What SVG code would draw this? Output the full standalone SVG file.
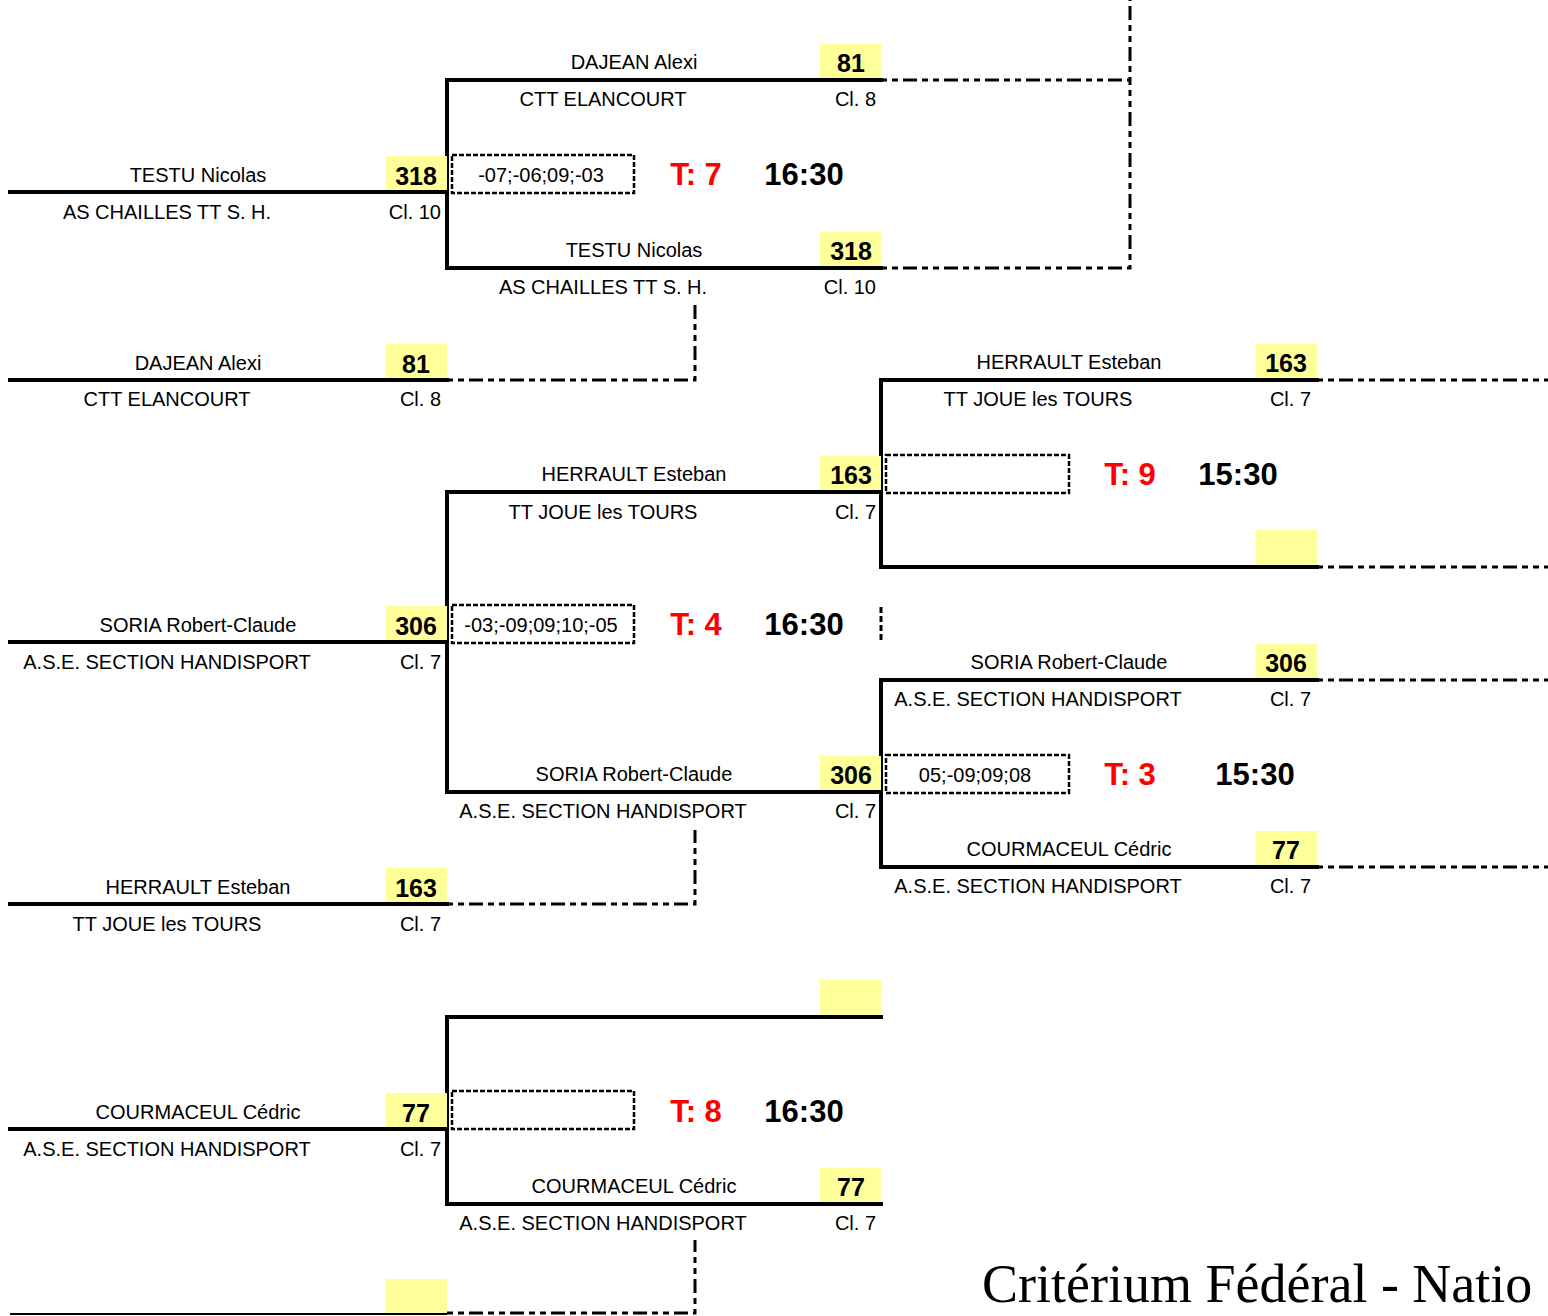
<svg xmlns="http://www.w3.org/2000/svg" width="1548" height="1316" viewBox="0 0 1548 1316">
<style>
.bg{fill:#fff}
.ln{stroke:#000;stroke-width:4;fill:none;stroke-linecap:square}
.thin{stroke:#000;stroke-width:2;fill:none}
.dd{stroke:#000;stroke-width:3;fill:none;stroke-dasharray:6 5 6 5 14 5}
.sb{stroke:#000;stroke-width:2.5;fill:none;stroke-dasharray:5 2}
.yb{fill:#ffff99}
text{font-family:"Liberation Sans",Arial,sans-serif;fill:#000}
.nm{font-size:20px;text-anchor:middle}
.cl{font-size:20px;text-anchor:end}
.sc{font-size:25px;font-weight:bold;text-anchor:middle}
.res{font-size:20px;text-anchor:middle}
.tb{font-size:31px;font-weight:bold;fill:#ff0000;text-anchor:middle}
.tm{font-size:31px;font-weight:bold;text-anchor:middle}
.title{font-family:"Liberation Serif","Times New Roman",serif;font-size:54px}
</style>
<rect class="bg" x="0" y="0" width="1548" height="1316"/>

<g id="connectors">
  <path class="dd" d="M881 80 H1130 V0 M881 268 H1130 V80"/>
  <path class="dd" d="M447 380 H695 V305"/>
  <path class="dd" d="M447 904 H695 V830"/>
  <path class="dd" d="M447 1313 H695 V1240"/>
  <path class="dd" d="M1317 380 H1548 M1317 567 H1548 M1317 680 H1548 M1317 867 H1548"/>
  <path class="dd" d="M881 607 V640" style="stroke-dasharray:6 3"/>
  <path class="ln" d="M447 80 V268 M881 380 V567 M881 680 V867 M447 492 V792 M447 1017 V1204"/>
</g>

<!-- Round 1 -->
<g id="r1-testu">
  <rect class="yb" x="386" y="156" width="61" height="36"/>
  <line class="ln" x1="10" y1="192" x2="447" y2="192"/>
  <text class="nm" x="198" y="182">TESTU Nicolas</text>
  <text class="nm" x="167" y="219">AS CHAILLES TT S. H.</text>
  <text class="sc" x="416" y="185">318</text>
  <text class="cl" x="441" y="219">Cl. 10</text>
</g>
<g id="r1-dajean">
  <rect class="yb" x="386" y="344" width="61" height="36"/>
  <line class="ln" x1="10" y1="380" x2="447" y2="380"/>
  <text class="nm" x="198" y="370">DAJEAN Alexi</text>
  <text class="nm" x="167" y="406">CTT ELANCOURT</text>
  <text class="sc" x="416" y="373">81</text>
  <text class="cl" x="441" y="406">Cl. 8</text>
</g>
<g id="r1-soria">
  <rect class="yb" x="386" y="606" width="61" height="36"/>
  <line class="ln" x1="10" y1="642" x2="447" y2="642"/>
  <text class="nm" x="198" y="632">SORIA Robert-Claude</text>
  <text class="nm" x="167" y="669">A.S.E. SECTION HANDISPORT</text>
  <text class="sc" x="416" y="635">306</text>
  <text class="cl" x="441" y="669">Cl. 7</text>
</g>
<g id="r1-herrault">
  <rect class="yb" x="386" y="868" width="61" height="36"/>
  <line class="ln" x1="10" y1="904" x2="447" y2="904"/>
  <text class="nm" x="198" y="894">HERRAULT Esteban</text>
  <text class="nm" x="167" y="931">TT JOUE les TOURS</text>
  <text class="sc" x="416" y="897">163</text>
  <text class="cl" x="441" y="931">Cl. 7</text>
</g>
<g id="r1-courmaceul">
  <rect class="yb" x="386" y="1093" width="61" height="36"/>
  <line class="ln" x1="10" y1="1129" x2="447" y2="1129"/>
  <text class="nm" x="198" y="1119">COURMACEUL Cédric</text>
  <text class="nm" x="167" y="1156">A.S.E. SECTION HANDISPORT</text>
  <text class="sc" x="416" y="1122">77</text>
  <text class="cl" x="441" y="1156">Cl. 7</text>
</g>
<g id="r1-empty">
  <rect class="yb" x="386" y="1279" width="61" height="34"/>
  <line class="thin" x1="10" y1="1314" x2="447" y2="1314"/>
</g>

<!-- Round 2 -->
<g id="r2-dajean">
  <rect class="yb" x="820" y="44" width="61" height="36"/>
  <line class="ln" x1="447" y1="80" x2="881" y2="80"/>
  <text class="nm" x="634" y="69">DAJEAN Alexi</text>
  <text class="nm" x="603" y="106">CTT ELANCOURT</text>
  <text class="sc" x="851" y="72">81</text>
  <text class="cl" x="876" y="106">Cl. 8</text>
</g>
<g id="r2-testu">
  <rect class="yb" x="820" y="232" width="61" height="36"/>
  <line class="ln" x1="447" y1="268" x2="881" y2="268"/>
  <text class="nm" x="634" y="257">TESTU Nicolas</text>
  <text class="nm" x="603" y="294">AS CHAILLES TT S. H.</text>
  <text class="sc" x="851" y="260">318</text>
  <text class="cl" x="876" y="294">Cl. 10</text>
</g>
<g id="m-t7">
  <rect class="sb" x="452" y="155" width="182" height="38"/>
  <text class="res" x="541" y="182">-07;-06;09;-03</text>
  <text class="tb" x="696" y="185">T: 7</text>
  <text class="tm" x="804" y="185">16:30</text>
</g>
<g id="r2-herrault">
  <rect class="yb" x="820" y="456" width="61" height="36"/>
  <line class="ln" x1="447" y1="492" x2="881" y2="492"/>
  <text class="nm" x="634" y="481">HERRAULT Esteban</text>
  <text class="nm" x="603" y="519">TT JOUE les TOURS</text>
  <text class="sc" x="851" y="484">163</text>
  <text class="cl" x="876" y="519">Cl. 7</text>
</g>
<g id="r2-soria">
  <rect class="yb" x="820" y="756" width="61" height="36"/>
  <line class="ln" x1="447" y1="792" x2="881" y2="792"/>
  <text class="nm" x="634" y="781">SORIA Robert-Claude</text>
  <text class="nm" x="603" y="818">A.S.E. SECTION HANDISPORT</text>
  <text class="sc" x="851" y="784">306</text>
  <text class="cl" x="876" y="818">Cl. 7</text>
</g>
<g id="m-t4">
  <rect class="sb" x="452" y="605" width="182" height="38"/>
  <text class="res" x="541" y="632">-03;-09;09;10;-05</text>
  <text class="tb" x="696" y="635">T: 4</text>
  <text class="tm" x="804" y="635">16:30</text>
</g>
<g id="r2-empty">
  <rect class="yb" x="820" y="980" width="61" height="37"/>
  <line class="ln" x1="447" y1="1017" x2="881" y2="1017"/>
</g>
<g id="r2-courmaceul">
  <rect class="yb" x="820" y="1168" width="61" height="36"/>
  <line class="ln" x1="447" y1="1204" x2="881" y2="1204"/>
  <text class="nm" x="634" y="1193">COURMACEUL Cédric</text>
  <text class="nm" x="603" y="1230">A.S.E. SECTION HANDISPORT</text>
  <text class="sc" x="851" y="1196">77</text>
  <text class="cl" x="876" y="1230">Cl. 7</text>
</g>
<g id="m-t8">
  <rect class="sb" x="452" y="1091" width="182" height="38"/>
  <text class="tb" x="696" y="1122">T: 8</text>
  <text class="tm" x="804" y="1122">16:30</text>
</g>

<!-- Round 3 -->
<g id="r3-herrault">
  <rect class="yb" x="1256" y="344" width="61" height="36"/>
  <line class="ln" x1="881" y1="380" x2="1317" y2="380"/>
  <text class="nm" x="1069" y="369">HERRAULT Esteban</text>
  <text class="nm" x="1038" y="406">TT JOUE les TOURS</text>
  <text class="sc" x="1286" y="372">163</text>
  <text class="cl" x="1311" y="406">Cl. 7</text>
</g>
<g id="r3-empty">
  <rect class="yb" x="1256" y="530" width="61" height="37"/>
  <line class="ln" x1="881" y1="567" x2="1317" y2="567"/>
</g>
<g id="m-t9">
  <rect class="sb" x="886" y="455" width="183" height="38"/>
  <text class="tb" x="1130" y="485">T: 9</text>
  <text class="tm" x="1238" y="485">15:30</text>
</g>
<g id="r3-soria">
  <rect class="yb" x="1256" y="644" width="61" height="36"/>
  <line class="ln" x1="881" y1="680" x2="1317" y2="680"/>
  <text class="nm" x="1069" y="669">SORIA Robert-Claude</text>
  <text class="nm" x="1038" y="706">A.S.E. SECTION HANDISPORT</text>
  <text class="sc" x="1286" y="672">306</text>
  <text class="cl" x="1311" y="706">Cl. 7</text>
</g>
<g id="r3-courmaceul">
  <rect class="yb" x="1256" y="831" width="61" height="36"/>
  <line class="ln" x1="881" y1="867" x2="1317" y2="867"/>
  <text class="nm" x="1069" y="856">COURMACEUL Cédric</text>
  <text class="nm" x="1038" y="893">A.S.E. SECTION HANDISPORT</text>
  <text class="sc" x="1286" y="859">77</text>
  <text class="cl" x="1311" y="893">Cl. 7</text>
</g>
<g id="m-t3">
  <rect class="sb" x="886" y="755" width="183" height="38"/>
  <text class="res" x="975" y="782">05;-09;09;08</text>
  <text class="tb" x="1130" y="785">T: 3</text>
  <text class="tm" x="1255" y="785">15:30</text>
</g>

<text class="title" x="982" y="1302">Critérium Fédéral - Natio</text>
</svg>
